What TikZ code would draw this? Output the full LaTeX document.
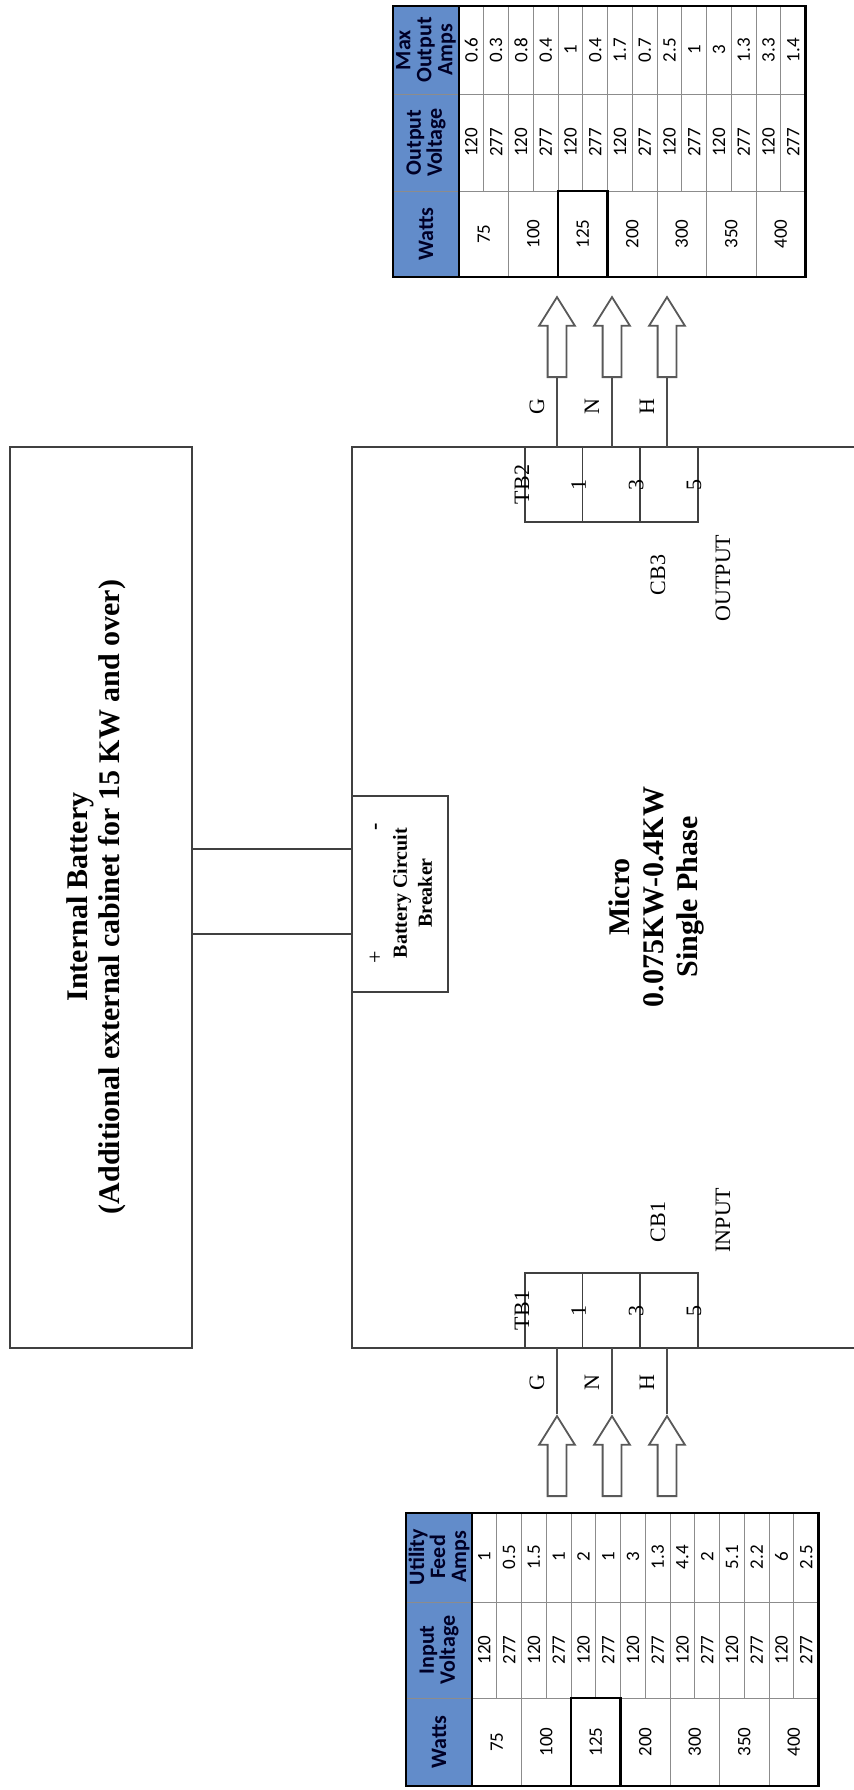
\documentclass[tikz,border=0pt]{standalone}
\usepackage{fontspec}
\setmainfont{Liberation Serif}
\newfontfamily\tabfont{Carlito}
\usepackage{tikz}
\usetikzlibrary{positioning}
\usetikzlibrary{shapes.arrows}
\definecolor{headblue}{RGB}{98,140,202}

\begin{document}
\begin{tikzpicture}[x=0.5pt, y=-0.5pt,
    unitbox/.style={rectangle, draw=black!75, line width=1.2pt, inner sep=0pt},
    cabinet/.style={draw=black!75, line width=1.2pt},
    tbcell/.style={rectangle, draw=black!75, line width=0.8pt, inner sep=0pt, outer sep=0pt, minimum width=28.83pt, minimum height=37.5pt},
    wire/.style={draw=black!70, line width=0.8pt},
    feedarrow/.style={single arrow, draw=black!65, line width=0.9pt, fill=white, rotate=90, inner xsep=0pt, inner ysep=4.25pt, minimum height=40pt, minimum width=17pt, single arrow head extend=4.25pt, single arrow tip angle=64, anchor=tail},
    vtext/.style={rotate=90, inner sep=0pt, align=center},
    boxtitle/.style={vtext, font=\bfseries\fontsize{15}{16}\selectfont},
    lbl/.style={vtext, font=\fontsize{11}{12}\selectfont},
    celltext/.style={vtext, font=\tabfont\fontsize{9.5}{10}\selectfont},
    headtext/.style={vtext, font=\tabfont\bfseries\fontsize{11}{10.5}\selectfont, text=black!85!blue},
    tabline/.style={draw=black!45, line width=0.4pt},
    tabframe/.style={draw=black, line width=1.2pt},
    ]
    \useasboundingbox (0,0) rectangle (853,1790);

    %Battery
    \node[unitbox, minimum width=91pt, minimum height=450.5pt] (battery) at (101,897.5) {};
    \node[boxtitle] (batterytext) at (96,897) {Internal Battery\\(Additional external cabinet for 15 KW and over)};

    %UPS cabinet
    \draw[cabinet] (856,447) -- (352,447) -- (352,1348) -- (856,1348);
    \node[boxtitle, font=\bfseries\fontsize{15}{17}\selectfont] (microtext) at (656,897) {Micro\\0.075KW-0.4KW\\Single Phase};

    %Breaker
    \node[unitbox, minimum width=48pt, minimum height=98pt] (breaker) at (400,894) {};
    \node[vtext, font=\bfseries\fontsize{10}{12.5}\selectfont] (breakertext) at (412.5,893) {Battery Circuit\\Breaker};
    \node[lbl] (bplus) at (376,957) {+};
    \node[lbl, font=\bfseries\fontsize{11}{12}\selectfont] (bminus) at (378,827) {-};
    \draw[cabinet] ([yshift=22.5pt]breaker.west) -- ([yshift=22.5pt]breaker.west -| battery.east);
    \draw[cabinet] ([yshift=-20pt]breaker.west) -- ([yshift=-20pt]breaker.west -| battery.east);

    %Terminal blocks
    \node[tbcell] (tbia) at (553.8,1310.5) {};
    \node[tbcell, right=0pt of tbia] (tbib) {};
    \node[tbcell, right=0pt of tbib] (tbic) {};
    \node[tbcell] (tboa) at (553.8,484.5) {};
    \node[tbcell, right=0pt of tboa] (tbob) {};
    \node[tbcell, right=0pt of tbob] (tboc) {};

    \node[lbl] (tbilabel) at ([xshift=-1.5pt]tbia.west) {TB1};
    \node[lbl] (tbolabel) at ([xshift=-1.5pt]tboa.west) {TB2};
    \node[lbl] at ([xshift=-2pt]tbia.east) {1};
    \node[lbl] at ([xshift=-2pt]tbib.east) {3};
    \node[lbl] at ([xshift=-2pt]tbic.east) {5};
    \node[lbl] at ([xshift=-2pt]tboa.east) {1};
    \node[lbl] at ([xshift=-2pt]tbob.east) {3};
    \node[lbl] at ([xshift=-2pt]tboc.east) {5};

    \node[lbl] (cbin) at (658,1222) {CB1};
    \node[lbl] (inputlabel) at (723,1220) {INPUT};
    \node[lbl] (cbout) at (658,575) {CB3};
    \node[lbl] (outputlabel) at (723,578) {OUTPUT};

    %Feeds
    \foreach \x/\n/\l in {557/g/G,612/n/N,667/h/H} {
        \node[feedarrow] (in\n) at (\x,1497) {};
        \draw[wire] (in\n.tip) -- (in\n.tip |- tbia.south);
        \node[lbl] at (\x-20,1383) {\l};
        \node[feedarrow] (out\n) at (\x,378) {};
        \draw[wire] (out\n.tail) -- (out\n.tail |- tboa.north);
        \node[lbl] at (\x-20,407) {\l};
    }

    %Input table
    \fill[headblue] (406,1513) rectangle (472,1786);
    \foreach \k in {1,3,...,13} \draw[tabline] (472+\k*24.76,1513) -- (472+\k*24.76,1698);
    \foreach \k in {2,4,...,12} \draw[tabline] (472+\k*24.76,1513) -- (472+\k*24.76,1786);
    \draw[tabline] (406,1602) -- (818.6,1602);
    \draw[tabline] (406,1698) -- (818.6,1698);
    \draw[tabframe] (472,1513) -- (472,1786);
    \draw[tabframe] (406,1513) rectangle (818.6,1786);
    \draw[tabframe] (472+4*24.76,1698) rectangle (472+6*24.76,1786);
    \node[headtext] (inwatthead) at (439,1742) {Watts};
    \node[headtext] (involthead) at (439,1650) {Input\\Voltage};
    \node[headtext] (inamphead) at (439,1557) {Utility\\Feed\\Amps};
    \foreach \w [count=\i from 0] in {75,100,125,200,300,350,400} {
        \node[celltext] (inw\i) at (472+24.76+\i*49.52,1742) {\w};
        \node[celltext] at (472+12.38+\i*49.52,1650) {120};
        \node[celltext] at (472+37.14+\i*49.52,1650) {277};
    }
    \foreach \a [count=\k from 0] in {1,0.5,1.5,1,2,1,3,1.3,4.4,2,5.1,2.2,6,2.5}
        \node[celltext] at (472+12.38+\k*24.76,1557) {\a};

    %Output table
    \fill[headblue] (393,6) rectangle (459,277);
    \foreach \k in {1,3,...,13} \draw[tabline] (459+\k*24.76,6) -- (459+\k*24.76,191);
    \foreach \k in {2,4,...,12} \draw[tabline] (459+\k*24.76,6) -- (459+\k*24.76,277);
    \draw[tabline] (393,94) -- (805.6,94);
    \draw[tabline] (393,191) -- (805.6,191);
    \draw[tabframe] (459,6) -- (459,277);
    \draw[tabframe] (393,6) rectangle (805.6,277);
    \draw[tabframe] (459+4*24.76,191) rectangle (459+6*24.76,277);
    \node[headtext] (outwatthead) at (426,234) {Watts};
    \node[headtext] (outvolthead) at (426,142.5) {Output\\Voltage};
    \node[headtext] (outamphead) at (426,50) {Max\\Output\\Amps};
    \foreach \w [count=\i from 0] in {75,100,125,200,300,350,400} {
        \node[celltext] (outw\i) at (459+24.76+\i*49.52,234) {\w};
        \node[celltext] at (459+12.38+\i*49.52,142.5) {120};
        \node[celltext] at (459+37.14+\i*49.52,142.5) {277};
    }
    \foreach \a [count=\k from 0] in {0.6,0.3,0.8,0.4,1,0.4,1.7,0.7,2.5,1,3,1.3,3.3,1.4}
        \node[celltext] at (459+12.38+\k*24.76,50) {\a};

\end{tikzpicture}
\end{document}
